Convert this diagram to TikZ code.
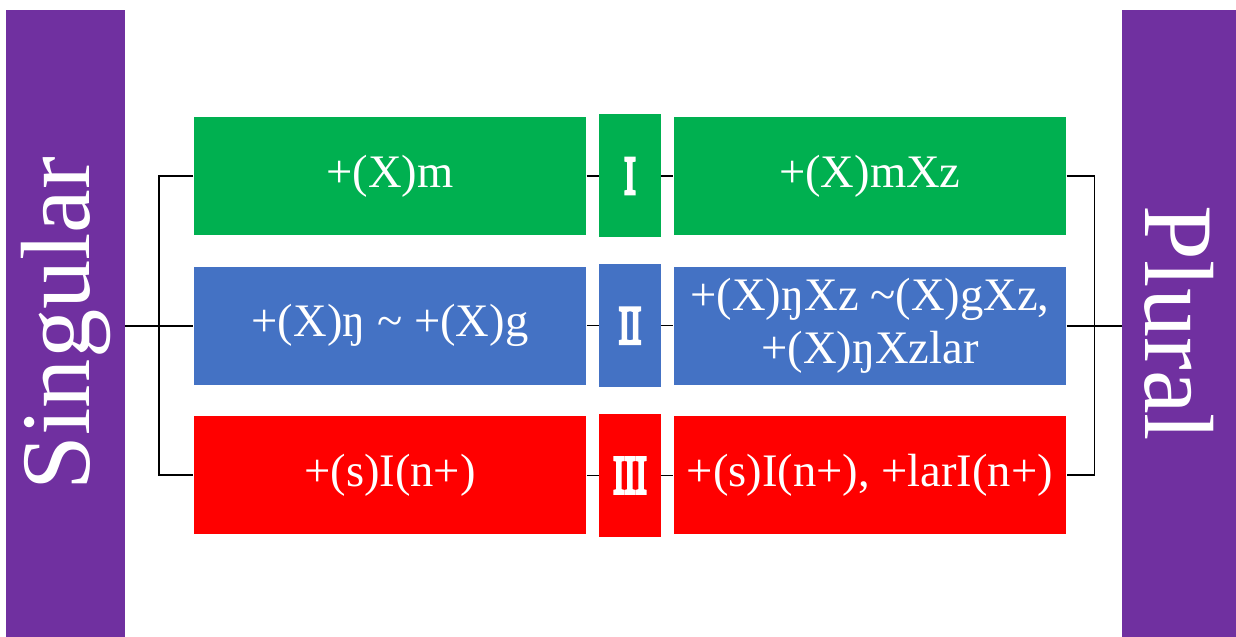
\documentclass[tikz,border=0pt]{standalone}
\usepackage{fontspec}
\setmainfont{Liberation Serif}
\newfontfamily\numfont{Liberation Serif}[FakeBold=7]
\usetikzlibrary{positioning}

\definecolor{grn}{HTML}{00B050}
\definecolor{blu}{HTML}{4472C4}
\definecolor{rd}{HTML}{FF0000}
\definecolor{purp}{HTML}{7030A0}

\begin{document}
\begin{tikzpicture}[
  node distance = 0.62cm and 0.24cm,
  every node/.style = {align=center, text=white, inner sep=0pt},
  box/.style = {minimum width=7.85cm, minimum height=2.36cm, font=\fontsize{26.5}{30}\selectfont},
  numbox/.style = {minimum width=1.24cm, minimum height=2.46cm, font=\numfont\fontsize{19}{19}\selectfont},
  bar/.style = {fill=purp, minimum width=12.54cm, font=\fontsize{56}{60}\selectfont},
  link/.style = {line width=1.1pt},
  tick/.style = {line width=0.6pt}
]
\useasboundingbox (0,0) rectangle (24.72,-12.74);

% --- side bars (rotated, so .south is the inner edge)
\node[bar, minimum height=2.38cm, rotate=90] (singular) at (1.31,-6.47) {Singular};
\node[bar, minimum height=2.28cm, rotate=-90] (plural) at (23.58,-6.47) {Plural};

% --- class I
\node[box, fill=grn] (sg1) at (7.8,-3.52) {+(X)m};
\node[numbox, fill=grn, right=of sg1] (cls1) {\scalebox{1}[1.6]{I}};
\node[box, fill=grn, right=of cls1] (pl1) {+(X)mXz};

% --- class II
\node[box, fill=blu, below=of sg1] (sg2) {+(X)ŋ \textasciitilde{} +(X)g};
\node[numbox, fill=blu, right=of sg2] (cls2) {\scalebox{1}[1.6]{II}};
\node[box, fill=blu, right=of cls2] (pl2) {+(X)ŋXz \textasciitilde(X)gXz,\\ +(X)ŋXzlar};

% --- class III
\node[box, fill=rd, below=of sg2] (sg3) {+(s)I(n+)};
\node[numbox, fill=rd, right=of sg3] (cls3) {\scalebox{1}[1.6]{III}};
\node[box, fill=rd, right=of cls3] (pl3) {+(s)I(n+), +larI(n+)};

% --- short ticks between boxes
\foreach \i in {1,2,3} {
  \draw[tick] (sg\i) -- (cls\i);
  \draw[tick] (cls\i) -- (pl\i);
}

% --- brackets
\draw[link] (singular.south |- sg2.west) -- (sg2.west);
\draw[link] (sg1.west) -- ++(-0.68,0) |- (sg3.west);
\draw[link] (pl2.east) -- (plural.south |- pl2.east);
\draw[link] (pl1.east) -- ++(0.56,0) |- (pl3.east);

\end{tikzpicture}
\end{document}
